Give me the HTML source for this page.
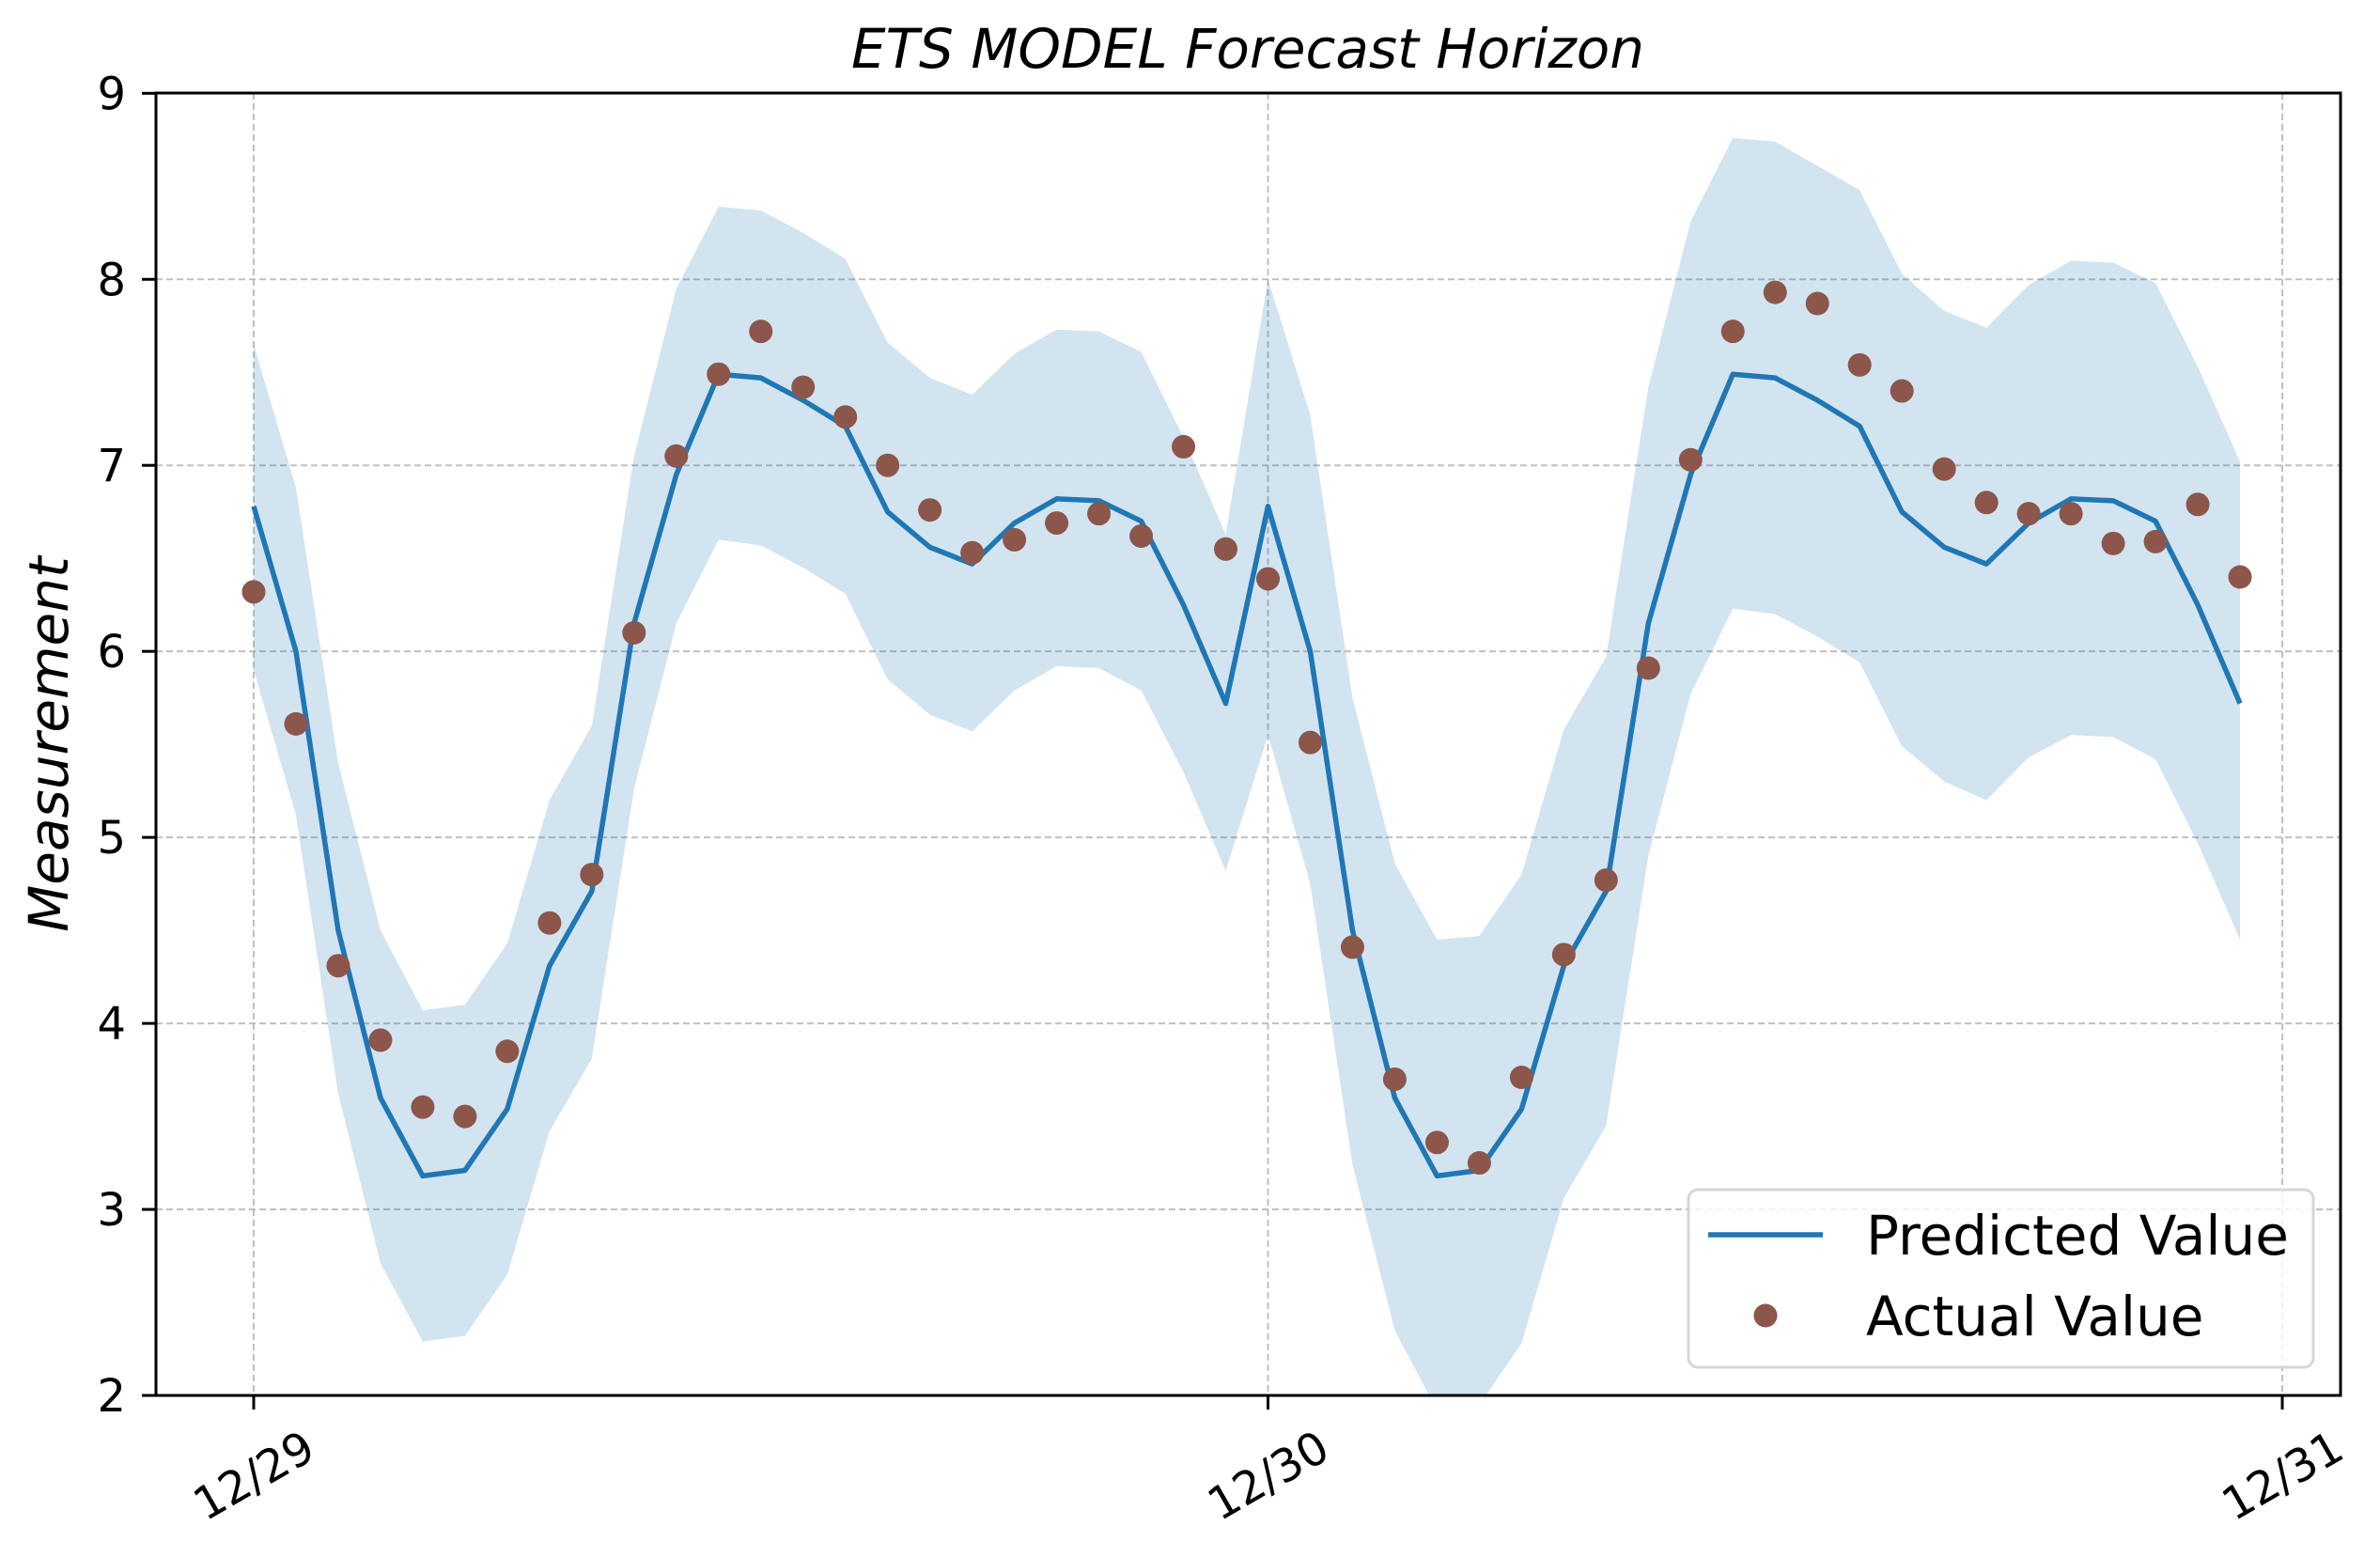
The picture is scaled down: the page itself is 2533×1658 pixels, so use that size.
<!DOCTYPE html>
<html><head><meta charset="utf-8"><style>
html,body{margin:0;padding:0;background:#fff;}
svg{display:block;font-family:"DejaVu Sans","Liberation Sans",sans-serif;}
</style></head><body>
<svg id="chart" width="2533" height="1658" viewBox="0 0 2533 1658">
<defs><clipPath id="plotclip"><rect x="166" y="99" width="2325" height="1386"/></clipPath></defs>
<rect width="2533" height="1658" fill="#fff"/>
<g id="grid"></g>
<g id="band" clip-path="url(#plotclip)"></g>
<g id="series" clip-path="url(#plotclip)"></g>
<rect x="166" y="99" width="2325" height="1386" fill="none" stroke="#000" stroke-width="3"/>
<g id="axes"></g>
<text x="1328" y="72" text-anchor="middle" font-size="58" font-style="italic">ETS MODEL Forecast Horizon</text>
<text x="0" y="0" transform="translate(72,792) rotate(-90)" text-anchor="middle" font-size="58" font-style="italic">Measurement</text>
<g>
<rect x="1797" y="1266" width="665" height="189" rx="10" fill="#fff" fill-opacity="0.8" stroke="#d6d6d6" stroke-width="3"/>
<line x1="1818" y1="1314" x2="1940" y2="1314" stroke="#1f77b4" stroke-width="5.5"/>
<text x="1986" y="1335" font-size="58">Predicted Value</text>
<circle cx="1879" cy="1400" r="12.5" fill="#8c564b"/>
<text x="1986" y="1421" font-size="58">Actual Value</text>
</g>
</svg>
<script>
const xTickLabels = ["12/29","12/30","12/31"];
const xTickIdx = [0,24,48];
const yTicks = [2,3,4,5,6,7,8,9];
const predicted = [6.78,6.0,4.5,3.6,3.18,3.21,3.54,4.31,4.71,6.15,6.95,7.49,7.47,7.35,7.21,6.75,6.56,6.47,6.69,6.82,6.81,6.70,6.25,5.72,
6.78,6.0,4.5,3.6,3.18,3.21,3.54,4.31,4.71,6.15,6.95,7.49,7.47,7.35,7.21,6.75,6.56,6.47,6.69,6.82,6.81,6.70,6.25,5.72];
const upper = [7.65,6.88,5.4,4.5,4.07,4.1,4.43,5.2,5.6,7.05,7.95,8.39,8.37,8.25,8.11,7.66,7.47,7.38,7.6,7.73,7.72,7.61,7.15,6.63,
8.0,7.27,5.75,4.86,4.45,4.47,4.8,5.58,5.97,7.42,8.31,8.76,8.74,8.61,8.48,8.03,7.83,7.74,7.97,8.1,8.09,7.98,7.53,7.02];
const lower = [5.9,5.12,3.62,2.71,2.29,2.32,2.65,3.42,3.81,5.26,6.15,6.6,6.57,6.45,6.31,5.85,5.66,5.57,5.79,5.92,5.91,5.79,5.35,4.82,
5.55,4.75,3.24,2.35,1.92,1.95,2.28,3.06,3.45,4.9,5.77,6.23,6.2,6.08,5.94,5.49,5.3,5.2,5.43,5.55,5.54,5.42,4.97,4.45];
const actual = [6.32,5.61,4.31,3.91,3.55,3.5,3.85,4.54,4.8,6.1,7.05,7.49,7.72,7.42,7.26,7.0,6.76,6.53,6.6,6.69,6.74,6.62,7.1,6.55,
6.39,5.51,4.41,3.7,3.36,3.25,3.71,4.37,4.77,5.91,7.03,7.72,7.93,7.87,7.54,7.4,6.98,6.8,6.74,6.74,6.58,6.59,6.79,6.4];

const NS="http://www.w3.org/2000/svg";
const X0=270, X1=2429, Y0=1485, Y1=99.3, YMIN=2, YMAX=9;
function xs(i){return X0+(X1-X0)*i/48;}
function ys(v){return Y0-(v-YMIN)*(Y0-Y1)/(YMAX-YMIN);}
function mk(tag,attrs,parent){const e=document.createElementNS(NS,tag);for(const k in attrs)e.setAttribute(k,attrs[k]);parent.appendChild(e);return e;}
const grid=document.getElementById('grid'),axes=document.getElementById('axes'),band=document.getElementById('band'),series=document.getElementById('series');

yTicks.forEach(v=>{
  const y=ys(v);
  if(v>YMIN&&v<YMAX){const g=mk('line',{x1:166,x2:2491,y1:y,y2:y,stroke:'#b0b0b0','stroke-width':2,'stroke-dasharray':'7,4','stroke-opacity':0.8},grid);
  
  }
  const t=mk('line',{x1:151,x2:166,y1:y,y2:y,stroke:'#000','stroke-width':3},axes);
  
  
  const l=mk('text',{x:134,y:y+17,'text-anchor':'end','font-size':48},axes);
  l.textContent=v;
  
  
});
xTickIdx.forEach((i,k)=>{
  const x=xs(i);
  const g=mk('line',{x1:x,x2:x,y1:99,y2:1485,stroke:'#b0b0b0','stroke-width':2,'stroke-dasharray':'7,4','stroke-opacity':0.8},grid);
  
  
  const t=mk('line',{x1:x,x2:x,y1:1485,y2:1500,stroke:'#000','stroke-width':3},axes);
  
  
  const l=mk('text',{x:0,y:17,'text-anchor':'middle','font-size':48,transform:`translate(${x},1570) rotate(-30)`},axes);
  l.textContent=xTickLabels[k];
  
  
});

let d='';
upper.forEach((v,i)=>{d+=(i?'L':'M')+xs(i)+','+ys(v);});
for(let i=lower.length-1;i>=0;i--){d+='L'+xs(i)+','+ys(lower[i]);}
const bp=mk('path',{d:d+'Z',fill:'#1f77b4','fill-opacity':0.2,stroke:'none'},band);



const pl=mk('polyline',{points:predicted.map((v,i)=>xs(i)+','+ys(v)).join(' '),fill:'none',stroke:'#1f77b4','stroke-width':5.5,'stroke-linejoin':'round'},series);


actual.forEach((v,i)=>{
  const c=mk('circle',{cx:xs(i),cy:ys(v),r:12.5,fill:'#8c564b'},series);
  
  
});
</script>
</body></html>
